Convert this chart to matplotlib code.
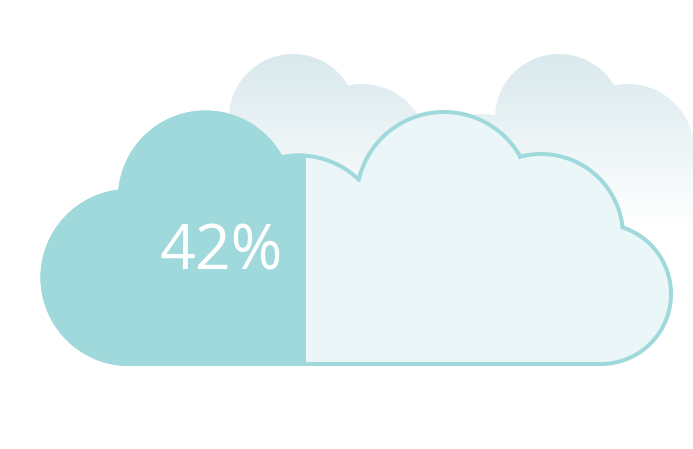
import numpy as np
import matplotlib
matplotlib.use('Agg')
import matplotlib.pyplot as plt
from matplotlib.colors import LinearSegmentedColormap
from matplotlib.patches import PathPatch, Rectangle
from matplotlib.path import Path

fill_percent = 42

# Front cloud lobes, clockwise from the lower left (canvas pixels, y down)
front_cx = [129, 205.5, 299, 444, 541, 601]
front_cy = [277.5, 198, 241.5, 199.5, 236, 294]
front_r = [88.5, 87.5, 88, 89.5, 84, 72]
front_base = 366

# Back cloud lobes, drawn once per offset
back_cx = [216, 293, 362, 370]
back_cy = [180, 118, 150, 195]
back_r = [66, 64, 66, 66]
back_base = 260
back_offsets = [0, 266]

teal = '#9FD9DB'
pale = '#EBF6F8'
stroke_px = 4
gradient_top = '#D9E9ED'
gradient_stop = 225


def circle_cross(c0, c1, mid):
    # Intersection of two neighbouring lobes, the one further from the cloud middle
    d = np.hypot(c1[0] - c0[0], c1[1] - c0[1])
    a = (c0[2]**2 - c1[2]**2 + d**2) / (2 * d)
    h = np.sqrt(c0[2]**2 - a**2)
    ux, uy = (c1[0] - c0[0]) / d, (c1[1] - c0[1]) / d
    px, py = c0[0] + a * ux, c0[1] + a * uy
    p1 = (px - h * uy, py + h * ux)
    p2 = (px + h * uy, py - h * ux)
    if np.hypot(p1[0] - mid[0], p1[1] - mid[1]) > np.hypot(p2[0] - mid[0], p2[1] - mid[1]):
        return p1
    return p2


def cloud_path(cx, cy, r, base, inset=0.0):
    lobes = [(x, y, rad - inset) for x, y, rad in zip(cx, cy, r)]
    mid = (np.mean(cx), np.mean(cy))
    joints = [circle_cross(lobes[i], lobes[i + 1], mid) for i in range(len(lobes) - 1)]
    y_base = base - inset
    pts = []
    for i, (x, y, rad) in enumerate(lobes):
        if i == 0:
            a0 = np.pi / 2  # bottom of the first lobe
        else:
            a0 = np.arctan2(joints[i - 1][1] - y, joints[i - 1][0] - x)
        if i == len(lobes) - 1:
            a1 = np.pi / 2
        else:
            a1 = np.arctan2(joints[i][1] - y, joints[i][0] - x)
        while a1 < a0:
            a1 += 2 * np.pi
        t = np.linspace(a0, a1, 160)
        pts.extend(zip(x + rad * np.cos(t), y + rad * np.sin(t)))
    pts[0] = (pts[0][0], y_base)
    pts[-1] = (pts[-1][0], y_base)
    pts.append(pts[0])
    return Path(pts, closed=True)


fig = plt.figure(figsize=(6.93, 4.49), dpi=100)
ax = fig.add_axes([0, 0, 1, 1])

# Faded clouds behind
fade = LinearSegmentedColormap.from_list('fade', [gradient_top, '#FFFFFF'])
for off in back_offsets:
    path = cloud_path([x + off for x in back_cx], back_cy, back_r, back_base)
    outline = PathPatch(path, facecolor='none', edgecolor='none')
    ax.add_patch(outline)
    im = ax.imshow(np.linspace(0, 1, 256).reshape(-1, 1), cmap=fade, aspect='auto',
                   extent=(0, 693, gradient_stop, 54), zorder=1, interpolation='bilinear')
    im.set_clip_path(outline)

ax.set_xlim(0, 693)
ax.set_ylim(449, 0)
ax.axis('off')

# Front cloud: pale body with outline, then the filled share on the left
line_path = cloud_path(front_cx, front_cy, front_r, front_base, inset=stroke_px / 2)
lw = stroke_px * 72 / fig.dpi
body = PathPatch(line_path, facecolor=pale, edgecolor=teal, lw=lw, zorder=2, joinstyle='miter')
ax.add_patch(body)

x_min = line_path.vertices[:, 0].min() - stroke_px / 2
x_max = line_path.vertices[:, 0].max() + stroke_px / 2
split_x = x_min + fill_percent / 100 * (x_max - x_min)

filled = PathPatch(line_path, facecolor=teal, edgecolor=teal, lw=lw, zorder=3, joinstyle='miter')
ax.add_patch(filled)
filled.set_clip_path(Rectangle((0, 0), split_x, 449, transform=ax.transData))

ax.text(221.5, 269.5, f'{fill_percent}%', color='white', fontsize=45, family='Open Sans',
        ha='center', va='baseline', zorder=4)

fig.savefig('out.png', dpi=100, facecolor='white')
plt.close(fig)
